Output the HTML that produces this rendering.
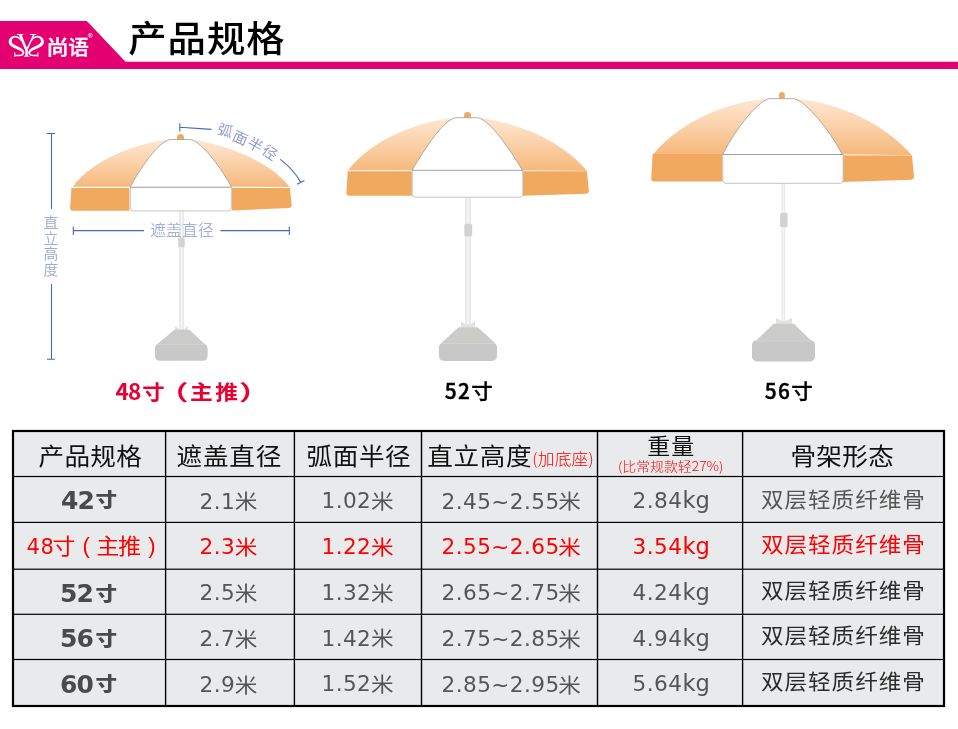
<!DOCTYPE html>
<html lang="zh-CN"><head><meta charset="utf-8"><title>产品规格</title>
<style>
html,body{margin:0;padding:0;background:#fff;}
body{width:958px;height:729px;overflow:hidden;}
svg{display:block;}
</style></head><body>
<svg width="958" height="729" viewBox="0 0 958 729">
<rect width="958" height="729" fill="#fff"/>
<path d="M0,21 L86.8,21 L125.5,61.7 L958,61.7 L958,69 L0,69 Z" fill="#e40070"/>
<g fill="#fff">
<path d="M21.27,40.35 L21.09,40.01 L20.92,39.67 L20.76,39.30 L20.58,38.92 L20.37,38.53 L20.11,38.14 L19.79,37.76 L19.39,37.42 L18.95,37.12 L18.45,36.85 L17.91,36.59 L17.34,36.36 L16.76,36.17 L16.16,36.01 L15.57,35.90 L14.98,35.85 L14.41,35.87 L13.84,35.95 L13.28,36.09 L12.73,36.27 L12.20,36.49 L11.70,36.75 L11.23,37.05 L10.78,37.39 L10.37,37.78 L9.99,38.23 L9.64,38.71 L9.34,39.22 L9.08,39.75 L8.87,40.31 L8.72,40.90 L8.65,41.49 L8.66,42.06 L8.74,42.63 L8.88,43.18 L9.09,43.73 L9.36,44.26 L9.69,44.77 L10.08,45.25 L10.53,45.72 L11.05,46.16 L11.63,46.56 L12.23,46.93 L12.85,47.26 L13.48,47.58 L14.11,47.89 L14.72,48.18 L15.33,48.49 L15.98,48.80 L16.67,49.11 L17.37,49.41 L18.05,49.71 L18.71,49.99 L19.30,50.26 L19.82,50.52 L20.26,50.77 L20.65,51.03 L21.03,51.29 L21.36,51.55 L21.66,51.81 L21.90,52.05 L22.10,52.28 L22.24,52.47 L22.32,52.62 L22.37,52.75 L22.39,52.92 L22.37,53.12 L22.31,53.34 L22.21,53.57 L22.07,53.79 L21.92,53.98 L21.75,54.14 L21.56,54.26 L21.29,54.38 L20.96,54.49 L20.56,54.57 L20.13,54.64 L19.68,54.70 L19.21,54.75 L18.74,54.80 L18.29,54.84 L17.83,54.86 L17.35,54.86 L16.85,54.85 L16.34,54.84 L15.83,54.82 L15.32,54.81 L14.81,54.80 L14.79,56.20 L15.29,56.20 L15.80,56.21 L16.31,56.23 L16.82,56.24 L17.34,56.24 L17.85,56.24 L18.36,56.23 L18.86,56.20 L19.33,56.16 L19.82,56.13 L20.31,56.08 L20.80,56.03 L21.28,55.95 L21.76,55.84 L22.22,55.68 L22.65,55.46 L23.02,55.19 L23.36,54.87 L23.65,54.51 L23.91,54.11 L24.11,53.67 L24.25,53.20 L24.31,52.70 L24.28,52.18 L24.15,51.68 L23.96,51.21 L23.71,50.75 L23.40,50.30 L23.05,49.87 L22.66,49.44 L22.23,49.03 L21.74,48.63 L21.18,48.24 L20.55,47.87 L19.89,47.52 L19.21,47.18 L18.53,46.86 L17.87,46.54 L17.25,46.23 L16.67,45.91 L16.08,45.58 L15.46,45.25 L14.86,44.93 L14.30,44.61 L13.78,44.31 L13.32,44.01 L12.96,43.74 L12.67,43.48 L12.45,43.23 L12.26,42.96 L12.10,42.71 L11.99,42.46 L11.90,42.21 L11.83,41.98 L11.78,41.74 L11.75,41.51 L11.73,41.27 L11.74,40.98 L11.79,40.64 L11.86,40.28 L11.97,39.92 L12.10,39.58 L12.25,39.27 L12.42,39.01 L12.62,38.76 L12.89,38.51 L13.20,38.28 L13.54,38.06 L13.91,37.87 L14.28,37.72 L14.66,37.61 L15.02,37.55 L15.41,37.54 L15.85,37.59 L16.34,37.68 L16.84,37.82 L17.34,38.00 L17.81,38.19 L18.25,38.39 L18.61,38.58 L18.89,38.76 L19.13,38.98 L19.36,39.23 L19.58,39.52 L19.80,39.84 L20.03,40.17 L20.27,40.52 L20.53,40.85 Z"/>
<path d="M31.33,40.35 L31.51,40.01 L31.68,39.67 L31.84,39.30 L32.02,38.92 L32.23,38.53 L32.49,38.14 L32.81,37.76 L33.21,37.42 L33.65,37.12 L34.15,36.85 L34.69,36.59 L35.26,36.36 L35.84,36.17 L36.44,36.01 L37.03,35.90 L37.62,35.85 L38.19,35.87 L38.76,35.95 L39.32,36.09 L39.87,36.27 L40.40,36.49 L40.90,36.75 L41.37,37.05 L41.82,37.39 L42.23,37.78 L42.61,38.23 L42.96,38.71 L43.26,39.22 L43.52,39.75 L43.73,40.31 L43.88,40.90 L43.95,41.49 L43.94,42.06 L43.86,42.63 L43.72,43.18 L43.51,43.73 L43.24,44.26 L42.91,44.77 L42.52,45.25 L42.07,45.72 L41.55,46.16 L40.97,46.56 L40.37,46.93 L39.75,47.26 L39.12,47.58 L38.49,47.89 L37.88,48.18 L37.27,48.49 L36.62,48.80 L35.93,49.11 L35.23,49.41 L34.55,49.71 L33.89,49.99 L33.30,50.26 L32.78,50.52 L32.34,50.77 L31.95,51.03 L31.57,51.29 L31.24,51.55 L30.94,51.81 L30.70,52.05 L30.50,52.28 L30.36,52.47 L30.28,52.62 L30.23,52.75 L30.21,52.92 L30.23,53.12 L30.29,53.34 L30.39,53.57 L30.53,53.79 L30.68,53.98 L30.85,54.14 L31.04,54.26 L31.31,54.38 L31.64,54.49 L32.04,54.57 L32.47,54.64 L32.92,54.70 L33.39,54.75 L33.86,54.80 L34.31,54.84 L34.77,54.86 L35.25,54.86 L35.75,54.85 L36.26,54.84 L36.77,54.82 L37.28,54.81 L37.79,54.80 L37.81,56.20 L37.31,56.20 L36.80,56.21 L36.29,56.23 L35.78,56.24 L35.26,56.24 L34.75,56.24 L34.24,56.23 L33.74,56.20 L33.27,56.16 L32.78,56.13 L32.29,56.08 L31.80,56.03 L31.32,55.95 L30.84,55.84 L30.38,55.68 L29.95,55.46 L29.58,55.19 L29.24,54.87 L28.95,54.51 L28.69,54.11 L28.49,53.67 L28.35,53.20 L28.29,52.70 L28.32,52.18 L28.45,51.68 L28.64,51.21 L28.89,50.75 L29.20,50.30 L29.55,49.87 L29.94,49.44 L30.37,49.03 L30.86,48.63 L31.42,48.24 L32.05,47.87 L32.71,47.52 L33.39,47.18 L34.07,46.86 L34.73,46.54 L35.35,46.23 L35.93,45.91 L36.52,45.58 L37.14,45.25 L37.74,44.93 L38.30,44.61 L38.82,44.31 L39.28,44.01 L39.64,43.74 L39.93,43.48 L40.15,43.23 L40.34,42.96 L40.50,42.71 L40.61,42.46 L40.70,42.21 L40.77,41.98 L40.82,41.74 L40.85,41.51 L40.87,41.27 L40.86,40.98 L40.81,40.64 L40.74,40.28 L40.63,39.92 L40.50,39.58 L40.35,39.27 L40.18,39.01 L39.98,38.76 L39.71,38.51 L39.40,38.28 L39.06,38.06 L38.69,37.87 L38.32,37.72 L37.94,37.61 L37.58,37.55 L37.19,37.54 L36.75,37.59 L36.26,37.68 L35.76,37.82 L35.26,38.00 L34.79,38.19 L34.35,38.39 L33.99,38.58 L33.71,38.76 L33.47,38.98 L33.24,39.23 L33.02,39.52 L32.80,39.84 L32.57,40.17 L32.33,40.52 L32.07,40.85 Z"/>
<rect x="14.2" y="52.5" width="1.1" height="4.2"/><rect x="37.3" y="52.5" width="1.1" height="4.2"/>
<path d="M16.9,34.1 L23.2,34.1 L23.2,34.9 L21.9,35 C23.4,39.5 25.6,44.8 27.8,49.6 L27.8,55.6 L29.4,55.9 L29.4,56.7 L24.1,56.7 L24.1,55.9 L25.4,55.6 L25.4,50.6 C23.2,45.6 20.8,39.8 18.9,35 L16.9,34.9 Z"/>
<path d="M30,34.1 L36.3,34.1 L36.3,34.9 L34.3,35 C32.4,39.6 30.2,44.6 27.9,49.4 L26.9,47.6 C29,43.4 31.2,38.8 32.8,35 L30,34.9 Z"/>
</g>
<text transform="translate(46.2,55.2) scale(1.09,1)" x="0" y="0" font-size="20.8" font-family='"Noto Sans CJK SC","Liberation Sans",sans-serif' font-weight="500" fill="#fff" text-anchor="start" letter-spacing="0" stroke="#fff" stroke-width="0.3">尚</text>
<text transform="translate(68.3,55.2) scale(0.99,1)" x="0" y="0" font-size="20.8" font-family='"Noto Sans CJK SC","Liberation Sans",sans-serif' font-weight="500" fill="#fff" text-anchor="start" letter-spacing="0" stroke="#fff" stroke-width="0.3">语</text>
<circle cx="90.3" cy="35.3" r="2.1" fill="none" stroke="#fff" stroke-width="0.6" opacity="0.85"/>
<text x="90.3" y="36.5" font-size="3" font-family='"Liberation Sans","Noto Sans CJK SC",sans-serif' font-weight="700" fill="#fff" text-anchor="middle" letter-spacing="0" >R</text>
<text transform="translate(128.2,51.8) scale(1,0.95)" x="0" y="0" font-size="38.4" font-family='"Noto Sans CJK SC","Liberation Sans",sans-serif' font-weight="500" fill="#000" text-anchor="start" letter-spacing="1.0" >产品规格</text>
<linearGradient id="g1" x1="0" y1="139.5" x2="0" y2="186.7" gradientUnits="userSpaceOnUse"><stop offset="0" stop-color="#fee7d2"/><stop offset="0.45" stop-color="#fbd3ad"/><stop offset="1" stop-color="#f6b97d"/></linearGradient>
<rect x="179.0" y="211" width="5.199999999999989" height="118.19999999999999" fill="#e9e9e9"/>
<rect x="180.87199999999999" y="211" width="1.4559999999999969" height="118.19999999999999" fill="#f7f7f7"/>
<rect x="178.3" y="237.4" width="6.5" height="9.799999999999983" rx="1.5" fill="#d2d2d2"/>
<path d="M175,325.8 L179.0,329.0 L184.2,329.0 L187.8,325.8 L187.8,330.3 L175,330.3 Z" fill="#e2e2e2"/>
<path d="M174.3,329.8 L189.5,329.8 L205.8,345.3 L156.1,345.3 Z" fill="#cbcbca"/>
<rect x="154.9" y="343.6" width="52.69999999999999" height="17.19999999999999" rx="4.8" fill="#c8c8c8"/>
<rect x="157.9" y="343.90000000000003" width="46.69999999999999" height="1.1" fill="#d3d3d3"/>
<path d="M177.0,140.4 L177.0,137.6 A3.5,3.5 0 0 1 184.0,137.6 L184.0,140.4 Z" fill="#f2aa5e"/>
<path d="M72.9,186.7 C91.97,160.02 134.73,143.65 168.9,139.5 L191.4,139.5 C226.42,144.55 270.25,161.26 289.8,187.0 L231.4,186.7 Z" fill="url(#g1)"/>
<path d="M130.4,186.7 C143.76,161.99 158.97,143.58 167.6,140.3 Q168.9,139.5 171.5,139.5 L188.8,139.5 Q191.4,139.5 192.70000000000002,140.3 C201.72,143.58 217.52,161.99 231.4,186.7 Z" fill="#fff"/>
<path d="M130.4,186.7 C143.76,161.99 158.97,143.58 167.6,140.3 Q168.9,139.5 171.5,139.5 L188.8,139.5 Q191.4,139.5 192.70000000000002,140.3 C201.72,143.58 217.52,161.99 231.4,186.7" fill="none" stroke="#8f8f8f" stroke-width="0.7"/>
<path d="M71.4,188.0 L129.4,188.0 L129.4,210.7 L72.9,210.7 Q70.10000000000001,210.7 70.10000000000001,207.89999999999998 Z" fill="#f0a95f"/>
<path d="M231.9,187.9 L289.8,187.9 L291.8,205.3 Q291.8,207.8 289.2,208.0 L231.9,210.6 Z" fill="#f0a95f"/>
<path d="M130.4,187.3 L231.3,187.3 L231.3,207.9 Q231.3,210.9 228.3,210.9 L133.4,210.9 Q130.4,210.9 130.4,207.9 Z" fill="#fff"/>
<path d="M231.3,187.3 L231.3,207.9 Q231.3,210.9 228.3,210.9 L133.4,210.9 Q130.4,210.9 130.4,207.9 L130.4,187.3" fill="none" stroke="#bdbdbd" stroke-width="0.9"/>
<path d="M130.1,187.3 L231.60000000000002,187.3" stroke="#8c8c8c" stroke-width="0.8"/>
<linearGradient id="g2" x1="0" y1="117.7" x2="0" y2="170.2" gradientUnits="userSpaceOnUse"><stop offset="0" stop-color="#fee7d2"/><stop offset="0.45" stop-color="#fbd3ad"/><stop offset="1" stop-color="#f6b97d"/></linearGradient>
<rect x="465" y="197" width="6" height="127.39999999999998" fill="#e9e9e9"/>
<rect x="467.16" y="197" width="1.6800000000000002" height="127.39999999999998" fill="#f7f7f7"/>
<rect x="464.3" y="223.8" width="7.899999999999977" height="12.799999999999983" rx="1.5" fill="#d2d2d2"/>
<path d="M461,321.1 L465,324.3 L471,324.3 L475,321.1 L475,327.7 L461,327.7 Z" fill="#e2e2e2"/>
<path d="M458.6,327.2 L477.6,327.2 L495.6,343.5 L440.9,343.5 Z" fill="#cbcbca"/>
<rect x="438.9" y="342.7" width="58.10000000000002" height="18.30000000000001" rx="4.8" fill="#c8c8c8"/>
<rect x="441.9" y="343.0" width="52.10000000000002" height="1.1" fill="#d3d3d3"/>
<path d="M464.05,118.6 L464.05,115.45 A3.45,3.45 0 0 1 470.95,115.45 L470.95,118.6 Z" fill="#f2aa5e"/>
<path d="M348.2,170.2 C369.0,143.29 407.94,123.16 454.5,117.7 L478.8,117.7 C526.24,124.06 565.91,145.01 587.1,171.1 L522.4,170.2 Z" fill="url(#g2)"/>
<path d="M412.1,170.2 C426.15,146.35 442.85,122.27 453.2,118.5 Q454.5,117.7 457.1,117.7 L476.2,117.7 Q478.8,117.7 480.1,118.5 C490.78,122.27 507.95,146.35 522.4,170.2 Z" fill="#fff"/>
<path d="M412.1,170.2 C426.15,146.35 442.85,122.27 453.2,118.5 Q454.5,117.7 457.1,117.7 L476.2,117.7 Q478.8,117.7 480.1,118.5 C490.78,122.27 507.95,146.35 522.4,170.2" fill="none" stroke="#8f8f8f" stroke-width="0.7"/>
<path d="M347.7,171.2 L411.9,171.2 L411.9,195.8 L349.2,195.8 Q346.4,195.8 346.4,193.0 Z" fill="#f0a95f"/>
<path d="M522.6,171.0 L586.9,171.0 L588.9,191.1 Q588.9,193.6 586.3,193.79999999999998 L522.6,195.8 Z" fill="#f0a95f"/>
<path d="M522.6,171.3 L586.9,171.3" stroke="#f9cfa4" stroke-width="0.7"/>
<path d="M412.2,170.3 L522.8,170.3 L522.8,194.2 Q522.8,197.2 519.8,197.2 L415.2,197.2 Q412.2,197.2 412.2,194.2 Z" fill="#fff"/>
<path d="M522.8,170.3 L522.8,194.2 Q522.8,197.2 519.8,197.2 L415.2,197.2 Q412.2,197.2 412.2,194.2 L412.2,170.3" fill="none" stroke="#bdbdbd" stroke-width="0.9"/>
<path d="M411.9,170.3 L523.0999999999999,170.3" stroke="#8c8c8c" stroke-width="0.8"/>
<linearGradient id="g3" x1="0" y1="98.6" x2="0" y2="154.3" gradientUnits="userSpaceOnUse"><stop offset="0" stop-color="#fee7d2"/><stop offset="0.45" stop-color="#fbd3ad"/><stop offset="1" stop-color="#f6b97d"/></linearGradient>
<rect x="781.4" y="183" width="3.800000000000068" height="138.2" fill="#e9e9e9"/>
<rect x="782.768" y="183" width="1.0640000000000192" height="138.2" fill="#f7f7f7"/>
<rect x="780" y="212.9" width="7.600000000000023" height="14.099999999999994" rx="1.5" fill="#d2d2d2"/>
<path d="M776,317.8 L781.4,321.0 L785.2,321.0 L792,317.8 L792,324.3 L776,324.3 Z" fill="#e2e2e2"/>
<path d="M773.6,323.8 L793.8,323.8 L812.2,341.40000000000003 L755.2,341.40000000000003 Z" fill="#cbcbca"/>
<rect x="752" y="340.2" width="63" height="21.30000000000001" rx="4.8" fill="#c8c8c8"/>
<rect x="755" y="340.5" width="57" height="1.1" fill="#d3d3d3"/>
<path d="M778.9499999999999,99.6 L778.9499999999999,94.95 A2.95,2.95 0 0 1 784.85,94.95 L784.85,99.6 Z" fill="#f2aa5e"/>
<path d="M653.3,154.3 C674.51,127.98 717.5,102.56 768.5,98.6 L794.6,98.6 C846.57,103.46000000000001 890.38,129.78 912,155.3 L842.2,154.3 Z" fill="url(#g3)"/>
<path d="M722.8,154.3 C735.61,128.88 756.66,103.04 767.2,99.39999999999999 Q768.5,98.6 771.1,98.6 L792.0,98.6 Q794.6,98.6 795.9,99.39999999999999 C806.93,103.04 828.86,128.88 842.2,154.3 Z" fill="#fff"/>
<path d="M722.8,154.3 C735.61,128.88 756.66,103.04 767.2,99.39999999999999 Q768.5,98.6 771.1,98.6 L792.0,98.6 Q794.6,98.6 795.9,99.39999999999999 C806.93,103.04 828.86,128.88 842.2,154.3" fill="none" stroke="#8f8f8f" stroke-width="0.7"/>
<path d="M652.6,153.9 L722.4,153.9 L722.4,181.6 L654.1,181.6 Q651.3000000000001,181.6 651.3000000000001,178.79999999999998 Z" fill="#f0a95f"/>
<path d="M842.4,155.2 L912,155.2 L914,177.1 Q914,179.6 911.4,179.79999999999998 L842.4,181.9 Z" fill="#f0a95f"/>
<path d="M842.4,155.5 L912,155.5" stroke="#f9cfa4" stroke-width="0.7"/>
<path d="M722.8,154.5 L843.1,154.5 L843.1,180.3 Q843.1,183.3 840.1,183.3 L725.8,183.3 Q722.8,183.3 722.8,180.3 Z" fill="#fff"/>
<path d="M843.1,154.5 L843.1,180.3 Q843.1,183.3 840.1,183.3 L725.8,183.3 Q722.8,183.3 722.8,180.3 L722.8,154.5" fill="none" stroke="#bdbdbd" stroke-width="0.9"/>
<path d="M722.5,154.5 L843.4,154.5" stroke="#8c8c8c" stroke-width="0.8"/>
<path d="M46.9,133.5 L54.9,133.5 M51.5,133.5 L51.5,209 M51.5,284 L51.5,359.2 M46.9,359.2 L54.9,359.2" stroke="#4469bd" stroke-width="1.1" fill="none"/>
<text x="51.0" y="228.4" font-size="14.8" font-family='"Noto Sans CJK SC","Liberation Sans",sans-serif' font-weight="350" fill="#9ca8d6" text-anchor="middle" letter-spacing="0" >直</text>
<text x="51.0" y="243.9" font-size="14.8" font-family='"Noto Sans CJK SC","Liberation Sans",sans-serif' font-weight="350" fill="#9ca8d6" text-anchor="middle" letter-spacing="0" >立</text>
<text x="51.0" y="259.4" font-size="14.8" font-family='"Noto Sans CJK SC","Liberation Sans",sans-serif' font-weight="350" fill="#9ca8d6" text-anchor="middle" letter-spacing="0" >高</text>
<text x="51.0" y="274.9" font-size="14.8" font-family='"Noto Sans CJK SC","Liberation Sans",sans-serif' font-weight="350" fill="#9ca8d6" text-anchor="middle" letter-spacing="0" >度</text>
<path d="M73.3,226.6 L73.3,235 M73.3,230.6 L144,230.6 M220.4,230.6 L289.3,230.6 M289.3,226.6 L289.3,235" stroke="#4469bd" stroke-width="1.1" fill="none"/>
<text x="182.0" y="236.2" font-size="15.7" font-family='"Noto Sans CJK SC","Liberation Sans",sans-serif' font-weight="350" fill="#a3aedb" text-anchor="middle" letter-spacing="0.25" >遮盖直径</text>
<path d="M179.8,123.2 L179.8,131.6 M179.8,127.3 L211.4,129.4 M280.3,159.4 Q293,169 300.5,181.9 M297.1,184.2 L304.4,180.4" stroke="#4469bd" stroke-width="1.1" fill="none"/>
<text transform="translate(225.2,130.5) rotate(17) scale(1,0.95)" x="0" y="5.5" font-size="15.1" font-family='"Noto Sans CJK SC","Liberation Sans",sans-serif' font-weight="400" fill="#909ed2" text-anchor="middle">弧</text>
<text transform="translate(240.2,138.1) rotate(24) scale(1,0.95)" x="0" y="5.5" font-size="15.1" font-family='"Noto Sans CJK SC","Liberation Sans",sans-serif' font-weight="400" fill="#909ed2" text-anchor="middle">面</text>
<text transform="translate(255.3,144.7) rotate(29) scale(1,0.95)" x="0" y="5.5" font-size="15.1" font-family='"Noto Sans CJK SC","Liberation Sans",sans-serif' font-weight="400" fill="#909ed2" text-anchor="middle">半</text>
<text transform="translate(269.9,152.6) rotate(35) scale(1,0.95)" x="0" y="5.5" font-size="15.1" font-family='"Noto Sans CJK SC","Liberation Sans",sans-serif' font-weight="400" fill="#909ed2" text-anchor="middle">径</text>
<text x="115.4" y="399.6" font-size="22.6" font-family='"Noto Sans CJK SC","Liberation Sans",sans-serif' font-weight="700" fill="#e60033" text-anchor="start" letter-spacing="-0.8" >48</text>
<text transform="translate(142.2,399.90000000000003) scale(1,0.91)" x="0" y="0" font-size="22.4" font-family='"Noto Sans CJK SC","Liberation Sans",sans-serif' font-weight="700" fill="#e60033" text-anchor="start" letter-spacing="0" >寸</text>
<text transform="translate(158.0,400.20000000000005) scale(1.35,0.94)" x="0" y="0" font-size="22.6" font-family='"Noto Sans CJK SC","Liberation Sans",sans-serif' font-weight="700" fill="#e60033" text-anchor="start" letter-spacing="0" >（</text>
<text transform="translate(190.0,399.90000000000003) scale(1,0.91)" x="0" y="0" font-size="22.8" font-family='"Noto Sans CJK SC","Liberation Sans",sans-serif' font-weight="700" fill="#e60033" text-anchor="start" letter-spacing="0" >主</text>
<text transform="translate(215.3,399.90000000000003) scale(1,0.91)" x="0" y="0" font-size="22.8" font-family='"Noto Sans CJK SC","Liberation Sans",sans-serif' font-weight="700" fill="#e60033" text-anchor="start" letter-spacing="0" >推</text>
<text transform="translate(239.0,400.20000000000005) scale(1.35,0.94)" x="0" y="0" font-size="22.6" font-family='"Noto Sans CJK SC","Liberation Sans",sans-serif' font-weight="700" fill="#e60033" text-anchor="start" letter-spacing="0" >）</text>
<text x="444.7" y="399.2" font-size="20.8" font-family='"Noto Sans CJK SC","Liberation Sans",sans-serif' font-weight="500" fill="#000" text-anchor="start" letter-spacing="1.55" stroke="#000" stroke-width="0.45">52</text>
<text transform="translate(471.2,399.2) scale(1,0.95)" x="0" y="0" font-size="21.6" font-family='"Noto Sans CJK SC","Liberation Sans",sans-serif' font-weight="500" fill="#000" text-anchor="start" letter-spacing="0" stroke="#000" stroke-width="0.3">寸</text>
<text x="764.7" y="399.2" font-size="20.8" font-family='"Noto Sans CJK SC","Liberation Sans",sans-serif' font-weight="500" fill="#000" text-anchor="start" letter-spacing="1.55" stroke="#000" stroke-width="0.45">56</text>
<text transform="translate(791.2,399.2) scale(1,0.95)" x="0" y="0" font-size="21.6" font-family='"Noto Sans CJK SC","Liberation Sans",sans-serif' font-weight="500" fill="#000" text-anchor="start" letter-spacing="0" stroke="#000" stroke-width="0.3">寸</text>
<rect x="13" y="431" width="931" height="275" fill="#e9eaeb" stroke="#000" stroke-width="2.2"/>
<rect x="164.9" y="431" width="1.4" height="275" fill="#000"/>
<rect x="293.7" y="431" width="1.4" height="275" fill="#000"/>
<rect x="420.8" y="431" width="1.4" height="275" fill="#000"/>
<rect x="596.8" y="431" width="1.4" height="275" fill="#000"/>
<rect x="741.9" y="431" width="1.4" height="275" fill="#000"/>
<rect x="13" y="475.9" width="931" height="1.2" fill="#000"/>
<rect x="13" y="521.8" width="931" height="1.2" fill="#000"/>
<rect x="13" y="568.6" width="931" height="1.2" fill="#000"/>
<rect x="13" y="613.6999999999999" width="931" height="1.2" fill="#000"/>
<rect x="13" y="658.9" width="931" height="1.2" fill="#000"/>
<text transform="translate(38.6,465.1) scale(1,0.93)" x="0" y="0" font-size="25.6" font-family='"Noto Sans CJK SC","Liberation Sans",sans-serif' font-weight="400" fill="#111" text-anchor="start" letter-spacing="0.25" >产品规格</text>
<text transform="translate(176.6,465.1) scale(1,0.93)" x="0" y="0" font-size="25.6" font-family='"Noto Sans CJK SC","Liberation Sans",sans-serif' font-weight="400" fill="#111" text-anchor="start" letter-spacing="0.75" >遮盖直径</text>
<text transform="translate(306.6,465.1) scale(1,0.93)" x="0" y="0" font-size="25.6" font-family='"Noto Sans CJK SC","Liberation Sans",sans-serif' font-weight="400" fill="#111" text-anchor="start" letter-spacing="0.55" >弧面半径</text>
<text transform="translate(427.3,465.1) scale(1,0.93)" x="0" y="0" font-size="25.6" font-family='"Noto Sans CJK SC","Liberation Sans",sans-serif' font-weight="400" fill="#111" text-anchor="start" letter-spacing="0.6" >直立高度</text>
<text transform="translate(532.2,465.0) scale(1,0.96)" x="0" y="0" font-size="16.7" font-family='"Noto Sans CJK SC","Liberation Sans",sans-serif' font-weight="300" fill="#ff0000" text-anchor="start" letter-spacing="0.25" >(加底座)</text>
<text transform="translate(671.2,454.3) scale(1,0.92)" x="0" y="0" font-size="23" font-family='"Noto Sans CJK SC","Liberation Sans",sans-serif' font-weight="400" fill="#111" text-anchor="middle" letter-spacing="1.0" >重量</text>
<text transform="translate(670.7,471.0) scale(1,0.93)" x="0" y="0" font-size="13.9" font-family='"Noto Sans CJK SC","Liberation Sans",sans-serif' font-weight="300" fill="#ff0000" text-anchor="middle" letter-spacing="0" >(比常规款轻27%)</text>
<text transform="translate(842.3,465.1) scale(1,0.93)" x="0" y="0" font-size="25.6" font-family='"Noto Sans CJK SC","Liberation Sans",sans-serif' font-weight="400" fill="#111" text-anchor="middle" letter-spacing="0.35" >骨架形态</text>
<text x="61.0" y="508.6" font-size="25.0" font-family='"DejaVu Sans","Liberation Sans",sans-serif' font-weight="700" fill="#4a4a4a" text-anchor="start" letter-spacing="-0.9" >42</text>
<text transform="translate(95.6,507.3) scale(1,0.9)" x="0" y="0" font-size="21.6" font-family='"Noto Sans CJK SC","Liberation Sans",sans-serif' font-weight="900" fill="#4a4a4a" text-anchor="start" letter-spacing="0" >寸</text>
<text x="199.6" y="508.5" font-size="21.6" font-family='"DejaVu Sans","Liberation Sans",sans-serif' font-weight="400" fill="#555" text-anchor="start" letter-spacing="0.42" >2.1</text>
<text transform="translate(257.3,509.2) scale(1,0.915)" x="0" y="0" font-size="22.6" font-family='"Noto Sans CJK SC","Liberation Sans",sans-serif' font-weight="400" fill="#555" text-anchor="end" letter-spacing="0" >米</text>
<text x="321.5" y="508.0" font-size="21.6" font-family='"DejaVu Sans","Liberation Sans",sans-serif' font-weight="400" fill="#555" text-anchor="start" letter-spacing="0.42" >1.02</text>
<text transform="translate(393.6,508.7) scale(1,0.915)" x="0" y="0" font-size="22.6" font-family='"Noto Sans CJK SC","Liberation Sans",sans-serif' font-weight="400" fill="#555" text-anchor="end" letter-spacing="0" >米</text>
<text x="441.6" y="508.5" font-size="21.6" font-family='"DejaVu Sans","Liberation Sans",sans-serif' font-weight="400" fill="#555" text-anchor="start" letter-spacing="0.42" >2.45~2.55</text>
<text transform="translate(580.8,509.2) scale(1,0.915)" x="0" y="0" font-size="22.6" font-family='"Noto Sans CJK SC","Liberation Sans",sans-serif' font-weight="400" fill="#555" text-anchor="end" letter-spacing="0" >米</text>
<text x="632.4" y="508.0" font-size="21.6" font-family='"DejaVu Sans","Liberation Sans",sans-serif' font-weight="400" fill="#555" text-anchor="start" letter-spacing="0.5" >2.84</text>
<text x="709.6" y="508.0" font-size="22.6" font-family='"DejaVu Sans","Liberation Sans",sans-serif' font-weight="400" fill="#555" text-anchor="end" letter-spacing="-0.2" >kg</text>
<text transform="translate(761,506.6) scale(1,0.93)" x="0" y="0" font-size="22.6" font-family='"Noto Sans CJK SC","Liberation Sans",sans-serif' font-weight="400" fill="#555" text-anchor="start" letter-spacing="0.95" >双层轻质纤维骨</text>
<text x="26.6" y="554.3" font-size="21.0" font-family='"DejaVu Sans","Liberation Sans",sans-serif' font-weight="400" fill="#ff0000" text-anchor="start" letter-spacing="0.6" >48</text>
<text transform="translate(52.5,553.7) scale(1,0.93)" x="0" y="0" font-size="22.8" font-family='"Noto Sans CJK SC","Liberation Sans",sans-serif' font-weight="400" fill="#ff0000" text-anchor="start" letter-spacing="0" >寸</text>
<text x="82.6" y="553.0" font-size="22.0" font-family='"Liberation Sans","Noto Sans CJK SC",sans-serif' font-weight="400" fill="#ff0000" text-anchor="start" letter-spacing="0" >(</text>
<text transform="translate(96.4,553.7) scale(1,0.93)" x="0" y="0" font-size="22.8" font-family='"Noto Sans CJK SC","Liberation Sans",sans-serif' font-weight="400" fill="#ff0000" text-anchor="start" letter-spacing="-0.9" >主推</text>
<text x="148.2" y="553.0" font-size="22.0" font-family='"Liberation Sans","Noto Sans CJK SC",sans-serif' font-weight="400" fill="#ff0000" text-anchor="start" letter-spacing="0" >)</text>
<text x="199.6" y="554.4" font-size="21.6" font-family='"DejaVu Sans","Liberation Sans",sans-serif' font-weight="400" fill="#ff0000" text-anchor="start" letter-spacing="0.42" >2.3</text>
<text transform="translate(257.3,555.1) scale(1,0.915)" x="0" y="0" font-size="22.6" font-family='"Noto Sans CJK SC","Liberation Sans",sans-serif' font-weight="400" fill="#ff0000" text-anchor="end" letter-spacing="0" >米</text>
<text x="321.5" y="553.9" font-size="21.6" font-family='"DejaVu Sans","Liberation Sans",sans-serif' font-weight="400" fill="#ff0000" text-anchor="start" letter-spacing="0.42" >1.22</text>
<text transform="translate(393.6,554.6) scale(1,0.915)" x="0" y="0" font-size="22.6" font-family='"Noto Sans CJK SC","Liberation Sans",sans-serif' font-weight="400" fill="#ff0000" text-anchor="end" letter-spacing="0" >米</text>
<text x="441.6" y="554.4" font-size="21.6" font-family='"DejaVu Sans","Liberation Sans",sans-serif' font-weight="400" fill="#ff0000" text-anchor="start" letter-spacing="0.42" >2.55~2.65</text>
<text transform="translate(580.8,555.1) scale(1,0.915)" x="0" y="0" font-size="22.6" font-family='"Noto Sans CJK SC","Liberation Sans",sans-serif' font-weight="400" fill="#ff0000" text-anchor="end" letter-spacing="0" >米</text>
<text x="632.4" y="553.9" font-size="21.6" font-family='"DejaVu Sans","Liberation Sans",sans-serif' font-weight="400" fill="#ff0000" text-anchor="start" letter-spacing="0.5" >3.54</text>
<text x="709.6" y="553.9" font-size="22.6" font-family='"DejaVu Sans","Liberation Sans",sans-serif' font-weight="400" fill="#ff0000" text-anchor="end" letter-spacing="-0.2" >kg</text>
<text transform="translate(761,552.0) scale(1,0.93)" x="0" y="0" font-size="22.6" font-family='"Noto Sans CJK SC","Liberation Sans",sans-serif' font-weight="400" fill="#ff0000" text-anchor="start" letter-spacing="0.95" >双层轻质纤维骨</text>
<text x="59.900000000000006" y="602.2" font-size="25.0" font-family='"DejaVu Sans","Liberation Sans",sans-serif' font-weight="700" fill="#4a4a4a" text-anchor="start" letter-spacing="-0.9" >52</text>
<text transform="translate(95.6,600.9000000000001) scale(1,0.9)" x="0" y="0" font-size="21.6" font-family='"Noto Sans CJK SC","Liberation Sans",sans-serif' font-weight="900" fill="#4a4a4a" text-anchor="start" letter-spacing="0" >寸</text>
<text x="199.6" y="600.4" font-size="21.6" font-family='"DejaVu Sans","Liberation Sans",sans-serif' font-weight="400" fill="#555" text-anchor="start" letter-spacing="0.42" >2.5</text>
<text transform="translate(257.3,601.1) scale(1,0.915)" x="0" y="0" font-size="22.6" font-family='"Noto Sans CJK SC","Liberation Sans",sans-serif' font-weight="400" fill="#555" text-anchor="end" letter-spacing="0" >米</text>
<text x="321.5" y="599.9" font-size="21.6" font-family='"DejaVu Sans","Liberation Sans",sans-serif' font-weight="400" fill="#555" text-anchor="start" letter-spacing="0.42" >1.32</text>
<text transform="translate(393.6,600.6) scale(1,0.915)" x="0" y="0" font-size="22.6" font-family='"Noto Sans CJK SC","Liberation Sans",sans-serif' font-weight="400" fill="#555" text-anchor="end" letter-spacing="0" >米</text>
<text x="441.6" y="600.4" font-size="21.6" font-family='"DejaVu Sans","Liberation Sans",sans-serif' font-weight="400" fill="#555" text-anchor="start" letter-spacing="0.42" >2.65~2.75</text>
<text transform="translate(580.8,601.1) scale(1,0.915)" x="0" y="0" font-size="22.6" font-family='"Noto Sans CJK SC","Liberation Sans",sans-serif' font-weight="400" fill="#555" text-anchor="end" letter-spacing="0" >米</text>
<text x="632.4" y="599.9" font-size="21.6" font-family='"DejaVu Sans","Liberation Sans",sans-serif' font-weight="400" fill="#555" text-anchor="start" letter-spacing="0.5" >4.24</text>
<text x="709.6" y="599.9" font-size="22.6" font-family='"DejaVu Sans","Liberation Sans",sans-serif' font-weight="400" fill="#555" text-anchor="end" letter-spacing="-0.2" >kg</text>
<text transform="translate(761,597.9) scale(1,0.93)" x="0" y="0" font-size="22.6" font-family='"Noto Sans CJK SC","Liberation Sans",sans-serif' font-weight="400" fill="#2b2b2b" text-anchor="start" letter-spacing="0.95" >双层轻质纤维骨</text>
<text x="59.900000000000006" y="647.0" font-size="25.0" font-family='"DejaVu Sans","Liberation Sans",sans-serif' font-weight="700" fill="#4a4a4a" text-anchor="start" letter-spacing="-0.9" >56</text>
<text transform="translate(95.6,645.7) scale(1,0.9)" x="0" y="0" font-size="21.6" font-family='"Noto Sans CJK SC","Liberation Sans",sans-serif' font-weight="900" fill="#4a4a4a" text-anchor="start" letter-spacing="0" >寸</text>
<text x="199.6" y="646.1" font-size="21.6" font-family='"DejaVu Sans","Liberation Sans",sans-serif' font-weight="400" fill="#555" text-anchor="start" letter-spacing="0.42" >2.7</text>
<text transform="translate(257.3,646.8000000000001) scale(1,0.915)" x="0" y="0" font-size="22.6" font-family='"Noto Sans CJK SC","Liberation Sans",sans-serif' font-weight="400" fill="#555" text-anchor="end" letter-spacing="0" >米</text>
<text x="321.5" y="645.6" font-size="21.6" font-family='"DejaVu Sans","Liberation Sans",sans-serif' font-weight="400" fill="#555" text-anchor="start" letter-spacing="0.42" >1.42</text>
<text transform="translate(393.6,646.3000000000001) scale(1,0.915)" x="0" y="0" font-size="22.6" font-family='"Noto Sans CJK SC","Liberation Sans",sans-serif' font-weight="400" fill="#555" text-anchor="end" letter-spacing="0" >米</text>
<text x="441.6" y="646.1" font-size="21.6" font-family='"DejaVu Sans","Liberation Sans",sans-serif' font-weight="400" fill="#555" text-anchor="start" letter-spacing="0.42" >2.75~2.85</text>
<text transform="translate(580.8,646.8000000000001) scale(1,0.915)" x="0" y="0" font-size="22.6" font-family='"Noto Sans CJK SC","Liberation Sans",sans-serif' font-weight="400" fill="#555" text-anchor="end" letter-spacing="0" >米</text>
<text x="632.4" y="645.6" font-size="21.6" font-family='"DejaVu Sans","Liberation Sans",sans-serif' font-weight="400" fill="#555" text-anchor="start" letter-spacing="0.5" >4.94</text>
<text x="709.6" y="645.6" font-size="22.6" font-family='"DejaVu Sans","Liberation Sans",sans-serif' font-weight="400" fill="#555" text-anchor="end" letter-spacing="-0.2" >kg</text>
<text transform="translate(761,643.0) scale(1,0.93)" x="0" y="0" font-size="22.6" font-family='"Noto Sans CJK SC","Liberation Sans",sans-serif' font-weight="400" fill="#2b2b2b" text-anchor="start" letter-spacing="0.95" >双层轻质纤维骨</text>
<text x="60.1" y="692.5" font-size="25.0" font-family='"DejaVu Sans","Liberation Sans",sans-serif' font-weight="700" fill="#4a4a4a" text-anchor="start" letter-spacing="-0.9" >60</text>
<text transform="translate(95.6,691.2) scale(1,0.9)" x="0" y="0" font-size="21.6" font-family='"Noto Sans CJK SC","Liberation Sans",sans-serif' font-weight="900" fill="#4a4a4a" text-anchor="start" letter-spacing="0" >寸</text>
<text x="199.6" y="691.8" font-size="21.6" font-family='"DejaVu Sans","Liberation Sans",sans-serif' font-weight="400" fill="#555" text-anchor="start" letter-spacing="0.42" >2.9</text>
<text transform="translate(257.3,692.5) scale(1,0.915)" x="0" y="0" font-size="22.6" font-family='"Noto Sans CJK SC","Liberation Sans",sans-serif' font-weight="400" fill="#555" text-anchor="end" letter-spacing="0" >米</text>
<text x="321.5" y="691.3" font-size="21.6" font-family='"DejaVu Sans","Liberation Sans",sans-serif' font-weight="400" fill="#555" text-anchor="start" letter-spacing="0.42" >1.52</text>
<text transform="translate(393.6,692.0) scale(1,0.915)" x="0" y="0" font-size="22.6" font-family='"Noto Sans CJK SC","Liberation Sans",sans-serif' font-weight="400" fill="#555" text-anchor="end" letter-spacing="0" >米</text>
<text x="441.6" y="691.8" font-size="21.6" font-family='"DejaVu Sans","Liberation Sans",sans-serif' font-weight="400" fill="#555" text-anchor="start" letter-spacing="0.42" >2.85~2.95</text>
<text transform="translate(580.8,692.5) scale(1,0.915)" x="0" y="0" font-size="22.6" font-family='"Noto Sans CJK SC","Liberation Sans",sans-serif' font-weight="400" fill="#555" text-anchor="end" letter-spacing="0" >米</text>
<text x="632.4" y="691.3" font-size="21.6" font-family='"DejaVu Sans","Liberation Sans",sans-serif' font-weight="400" fill="#555" text-anchor="start" letter-spacing="0.5" >5.64</text>
<text x="709.6" y="691.3" font-size="22.6" font-family='"DejaVu Sans","Liberation Sans",sans-serif' font-weight="400" fill="#555" text-anchor="end" letter-spacing="-0.2" >kg</text>
<text transform="translate(761,688.5) scale(1,0.93)" x="0" y="0" font-size="22.6" font-family='"Noto Sans CJK SC","Liberation Sans",sans-serif' font-weight="400" fill="#2b2b2b" text-anchor="start" letter-spacing="0.95" >双层轻质纤维骨</text>
</svg>
</body></html>
